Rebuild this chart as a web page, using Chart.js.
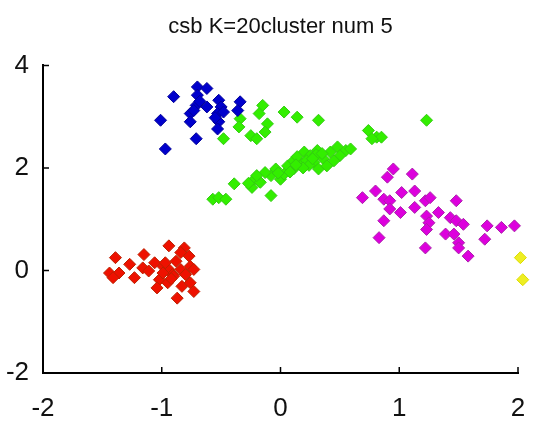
<!DOCTYPE html>
<html>
<head>
<meta charset="utf-8">
<script src="https://cdn.jsdelivr.net/npm/chart.js@4"></script>
<style>
  html, body { margin: 0; padding: 0; background: #fff; }
  #wrap { width: 541px; height: 422px; }
</style>
</head>
<body>
<div id="wrap"><canvas id="chart" width="541" height="422"></canvas></div>
<script>
const titleText = "csb K=20cluster num 5"
const xTicks = [-2, -1, 0, 1, 2]
const yTicks = [-2, 0, 2, 4]

const redX = [-0.94, -0.81, -1.39, -1.15, -1.27, -1.06, -1.44, -1.36, -1.41, -1.23, -1.16, -1.11, -0.99, -0.94, -0.97, -0.91, -0.84, -0.77, -0.76, -0.73, -0.84, -0.80, -1.02, -0.95, -1.04, -0.83, -0.76, -0.73, -0.87, -0.90, -0.99, -0.88, -0.92]
const redY = [0.48, 0.44, 0.25, 0.31, 0.12, 0.15, -0.05, -0.05, -0.14, -0.14, 0.05, -0.01, 0.08, 0.02, 0.15, -0.08, 0.35, 0.28, 0.08, 0.02, 0.02, -0.08, -0.18, -0.24, -0.34, -0.31, -0.24, -0.41, -0.54, -0.11, -0.05, 0.18, -0.16]

const blueX = [-0.90, -0.70, -0.62, -0.70, -1.01, -0.71, -0.76, -0.73, -0.62, -0.52, -0.50, -0.53, -0.48, -0.52, -0.53, -0.76, -0.71, -0.97, -0.34, -0.36, -0.68, -0.55]
const blueY = [3.39, 3.58, 3.55, 3.42, 2.93, 3.22, 3.06, 3.12, 3.19, 3.32, 3.19, 3.06, 3.09, 2.90, 2.76, 2.90, 2.57, 2.37, 3.29, 3.12, 3.30, 2.98]

const greenX = [-0.15, -0.18, 0.03, 0.14, 0.32, -0.34, -0.35, -0.11, -0.25, -0.20, -0.13, -0.48, 0.74, 0.81, 0.85, 0.77, 1.23,
  -0.57, -0.52, -0.46, -0.39, -0.08, -0.24, -0.22, -0.17, -0.08, -0.04, 0.00, 0.06, 0.11, 0.17, 0.20, 0.25, 0.28, 0.32, 0.36, 0.31, 0.42, 0.48, 0.55, 0.59, 0.50, 0.22, 0.11, -0.13, 0.03, -0.20, 0.39, 0.45,
  0.14, 0.24, 0.30, 0.19, 0.08, -0.02, 0.35, 0.27, 0.13, -0.27]
const greenY = [3.22, 3.06, 3.09, 2.99, 2.93, 2.96, 2.80, 2.86, 2.63, 2.57, 2.70, 2.57, 2.73, 2.60, 2.60, 2.57, 2.93,
  1.39, 1.42, 1.39, 1.69, 1.46, 1.62, 1.78, 1.72, 1.85, 1.98, 1.78, 2.04, 1.98, 2.11, 2.31, 2.24, 2.11, 1.98, 2.18, 2.34, 2.31, 2.41, 2.34, 2.37, 2.24, 2.14, 2.14, 1.91, 1.88, 1.85, 2.04, 2.14,
  2.22, 2.05, 2.26, 2.00, 1.92, 1.90, 2.28, 2.18, 2.06, 1.70]

const magentaX = [0.95, 0.90, 1.11, 0.69, 0.80, 0.87, 0.92, 0.92, 1.02, 1.13, 1.13, 1.22, 1.26, 1.01, 0.87, 0.83, 1.23, 1.25, 1.23, 1.22, 1.33, 1.48, 1.43, 1.48, 1.54, 1.39, 1.46, 1.50, 1.50, 1.58, 1.74, 1.86, 1.97, 1.72]
const magentaY = [1.98, 1.82, 1.88, 1.42, 1.55, 1.39, 1.36, 1.20, 1.52, 1.55, 1.23, 1.36, 1.42, 1.13, 0.97, 0.64, 1.06, 0.93, 0.80, 0.44, 1.13, 1.36, 1.03, 0.97, 0.90, 0.71, 0.71, 0.54, 0.44, 0.28, 0.87, 0.84, 0.87, 0.61]

const yellowX = [2.02, 2.04]
const yellowY = [0.25, -0.18]

function pts(xs, ys) {
  return xs.map((x, i) => ({ x: x, y: ys[i] }))
}

function cluster(xs, ys, fill, edge) {
  return {
    data: pts(xs, ys),
    pointStyle: "rectRot",
    pointRadius: 6,
    pointBackgroundColor: fill,
    pointBorderColor: edge,
    pointBorderWidth: 1,
    showLine: false,
    clip: false
  }
}

// matlab style ticks pointing into the plot
const innerTicks = {
  id: "innerTicks",
  afterDraw(chart) {
    const c = chart.ctx
    const xs = chart.scales.x
    const ys = chart.scales.y
    const a = chart.chartArea
    c.save()
    c.strokeStyle = "#000"
    c.lineWidth = 1.5
    c.beginPath()
    xTicks.forEach(v => {
      const p = xs.getPixelForValue(v)
      c.moveTo(p, a.bottom)
      c.lineTo(p, a.bottom - 6)
    })
    yTicks.forEach(v => {
      const p = ys.getPixelForValue(v)
      c.moveTo(a.left, p)
      c.lineTo(a.left + 6, p)
    })
    c.stroke()
    c.restore()
  }
}

const tickFont = { family: "'Liberation Sans Narrow', 'Liberation Sans', sans-serif", size: 26 }

new Chart(document.getElementById("chart"), {
  type: "scatter",
  data: {
    datasets: [
      cluster(redX, redY, "#ee1100", "#bb2200"),
      cluster(blueX, blueY, "#0000cc", "#000099"),
      cluster(greenX, greenY, "#33ee00", "#33cc11"),
      cluster(magentaX, magentaY, "#dd00dd", "#aa22aa"),
      cluster(yellowX, yellowY, "#eeee22", "#dddd00")
    ]
  },
  options: {
    responsive: false,
    animation: false,
    layout: { padding: { left: 0, right: 23, top: 0, bottom: 0 } },
    plugins: {
      legend: { display: false },
      tooltip: { enabled: false },
      title: {
        display: true,
        fullSize: false,
        text: titleText,
        color: "#111",
        font: { family: "'Liberation Sans Narrow', 'Liberation Sans', sans-serif", size: 22, weight: "normal" },
        padding: { top: 14, bottom: 25 }
      }
    },
    scales: {
      x: {
        type: "linear",
        min: -2,
        max: 2,
        afterBuildTicks: s => { s.ticks = xTicks.map(v => ({ value: v })) },
        afterFit: s => { s.height = 49 },
        border: { color: "#000", width: 2 },
        grid: { display: false },
        ticks: { color: "#111", font: tickFont, padding: 12 }
      },
      y: {
        type: "linear",
        min: -2,
        max: 4,
        afterBuildTicks: s => { s.ticks = yTicks.map(v => ({ value: v })) },
        afterFit: s => { s.width = 43 },
        border: { color: "#000", width: 2 },
        grid: { display: false },
        ticks: { color: "#111", font: tickFont, padding: 6 }
      }
    }
  },
  plugins: [innerTicks]
})
</script>
</body>
</html>
